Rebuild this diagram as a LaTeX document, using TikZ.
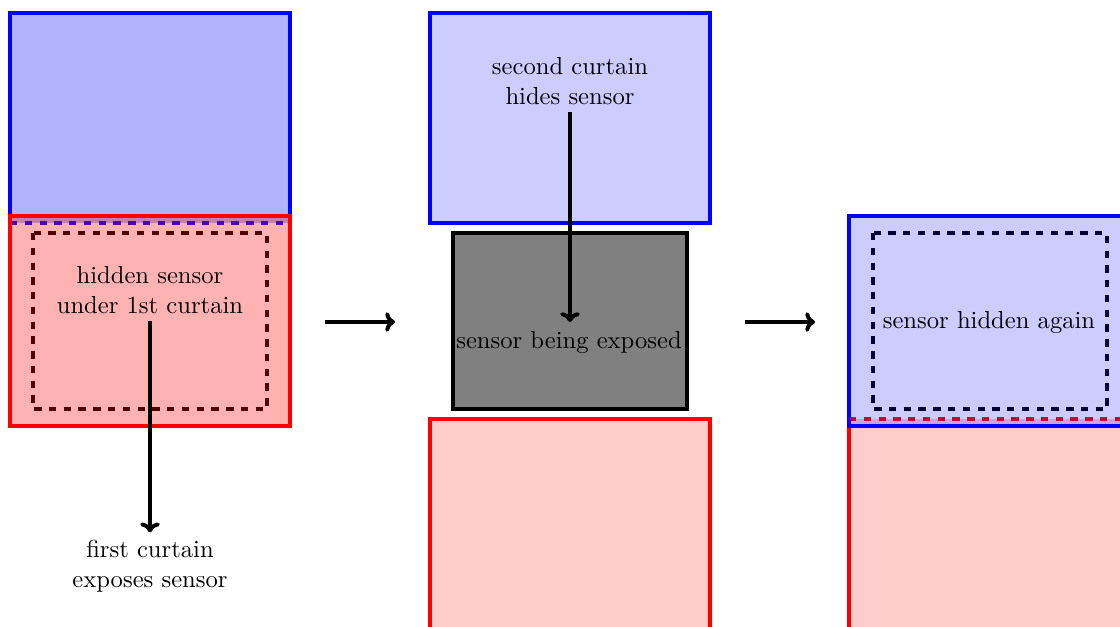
\documentclass[tikz,border=0pt]{standalone}
\usetikzlibrary{arrows.meta}
\begin{document}
\begin{tikzpicture}[x=0.0142857cm, y=-0.0142857cm,
  edge/.style={line width=1.6pt},
  hid/.style={line width=1.6pt, dashed},
  arr/.style={line width=1.6pt, -{To[length=4pt,width=8pt]}},
  lbl/.style={align=center, inner sep=3pt}]
\clip (0,0) rectangle (1120,626);
% ---------- panel 1 ----------
\fill[blue, fill opacity=.3] (10,13) rectangle (290,223);
\draw[blue, edge] (10,223) -- (10,13) -- (290,13) -- (290,223);
\draw[blue, hid] (10,223) -- (290,223);
\draw[hid, black] (33,233) rectangle (267,409);
\draw[red, edge, fill=red, fill opacity=.3] (10,216) rectangle (290,426);
\node[lbl] (l1) at (150,290) {hidden sensor\\under 1st curtain};
\node[lbl] (l2) at (150,566) {first curtain\\exposes sensor};
\draw[arr] (l1.south) -- (l2.north);
% ---------- arrow 1 ----------
\coordinate (a1s) at (325,322);
\coordinate (a1e) at (395,322);
\draw[arr] (a1s) -- (a1e);
% ---------- panel 2 ----------
\draw[blue, edge, fill=blue, fill opacity=.2] (430,13) rectangle (710,223);
\draw[edge, fill=gray] (453,233) rectangle (687,409);
\coordinate (gc) at (570,322);
\draw[red, edge, fill=red, fill opacity=.2] (430,419) rectangle (710,629);
\node[lbl] (l3) at (570,81) {second curtain\\hides sensor};
\draw[arr] (l3.south) -- (gc);
\node[lbl] (l4) at (569,342) {sensor being exposed};
% ---------- arrow 2 ----------
\coordinate (a2s) at (745,322);
\coordinate (a2e) at (815,322);
\draw[arr] (a2s) -- (a2e);
% ---------- panel 3 ----------
\fill[red, fill opacity=.2] (849,419) rectangle (1129,629);
\draw[red, edge] (849,419) -- (849,629);
\draw[red, hid] (849,419) -- (1129,419);
\draw[hid, black] (873,233) rectangle (1107,409);
\draw[blue, edge, fill=blue, fill opacity=.2] (849,216) rectangle (1129,426);
\node[lbl] (l5) at (989,322) {sensor hidden again};
\end{tikzpicture}
\end{document}
